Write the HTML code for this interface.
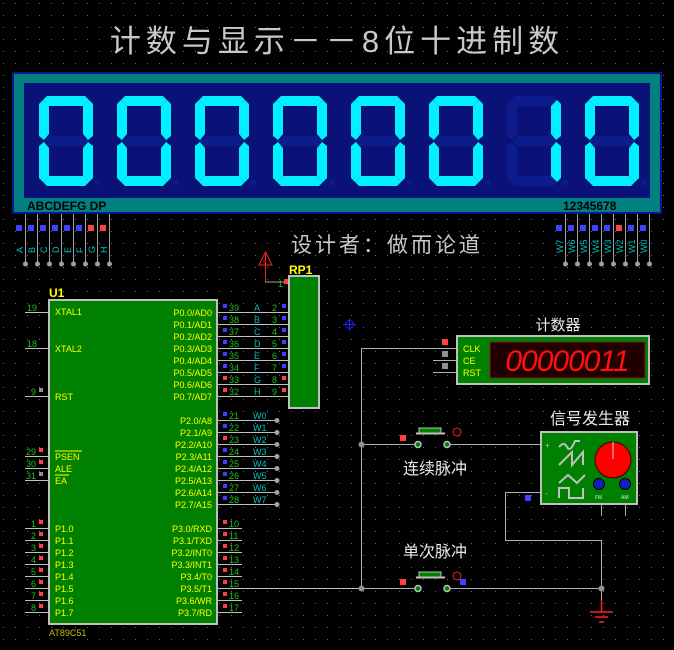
<!DOCTYPE html>
<html><head><meta charset="utf-8"><style>
html,body{margin:0;padding:0;background:#000;}
svg{display:block}
text{font-family:"Liberation Sans","Noto Sans CJK SC",sans-serif}
</style></head><body>
<svg width="674" height="650" viewBox="0 0 674 650" xmlns="http://www.w3.org/2000/svg">
<defs>
<pattern id="grid" width="12" height="12" patternUnits="userSpaceOnUse" x="3" y="3">
<rect x="0" y="0" width="1" height="1" fill="#6a6a6a"/>
</pattern>
<g id="sa"><polygon points="8,0 46,0 50,4 44,10 10,10 4,4"/></g>
<g id="sd"><polygon points="10,80 44,80 50,86 46,90 8,90 4,86"/></g>
<g id="sg"><polygon points="10,40 44,40 48,45 44,50 10,50 6,45"/></g>
<g id="sf"><polygon points="0,8 4,4 10,10 10,38 5,44 0,40"/></g>
<g id="sb"><polygon points="54,8 50,4 44,10 44,38 49,44 54,40"/></g>
<g id="se"><polygon points="0,50 5,46 10,52 10,80 4,86 0,82"/></g>
<g id="sc"><polygon points="54,50 49,46 44,52 44,80 50,86 54,82"/></g>
<g id="dig0">
<use href="#sg" fill="#0d1c8c"/>
<g fill="#00f0ff"><use href="#sa"/><use href="#sb"/><use href="#sc"/><use href="#sd"/><use href="#se"/><use href="#sf"/></g>
<rect x="56" y="84" width="5" height="5" fill="#0d1c8c"/>
</g>
<g id="dig1">
<g fill="#0d1c8c"><use href="#sa"/><use href="#sd"/><use href="#sg"/><use href="#se"/><use href="#sf"/></g>
<g fill="#00f0ff"><use href="#sb"/><use href="#sc"/></g>
<rect x="56" y="84" width="5" height="5" fill="#0d1c8c"/>
</g>
</defs>
<rect width="674" height="650" fill="#000"/>
<rect width="674" height="650" fill="url(#grid)"/>

<text x="337" y="52" text-anchor="middle" font-size="31" fill="#c8c8c8" letter-spacing="5">计数与显示－－8位十进制数</text>

<rect x="12" y="72" width="650" height="142" fill="#0a1590"/>
<rect x="14" y="74" width="646" height="138" fill="#008080"/>
<rect x="24" y="83" width="626" height="115" fill="#0a1278"/>
<g transform="translate(39,96)"><use href="#dig0"/></g>
<g transform="translate(117,96)"><use href="#dig0"/></g>
<g transform="translate(195,96)"><use href="#dig0"/></g>
<g transform="translate(273,96)"><use href="#dig0"/></g>
<g transform="translate(351,96)"><use href="#dig0"/></g>
<g transform="translate(429,96)"><use href="#dig0"/></g>
<g transform="translate(507,96)"><use href="#dig1"/></g>
<g transform="translate(585,96)"><use href="#dig0"/></g>
<text x="27" y="210" font-size="12" font-weight="bold" fill="#000">ABCDEFG DP</text>
<text x="563" y="210" font-size="12" font-weight="bold" fill="#000">12345678</text>

<g stroke="#a0a0a0" stroke-width="1">
<line x1="25.5" y1="214" x2="25.5" y2="263"/><line x1="37.5" y1="214" x2="37.5" y2="263"/>
<line x1="49.5" y1="214" x2="49.5" y2="263"/><line x1="61.5" y1="214" x2="61.5" y2="263"/>
<line x1="73.5" y1="214" x2="73.5" y2="263"/><line x1="85.5" y1="214" x2="85.5" y2="263"/>
<line x1="97.5" y1="214" x2="97.5" y2="263"/><line x1="109.5" y1="214" x2="109.5" y2="263"/>
<line x1="565.5" y1="214" x2="565.5" y2="263"/><line x1="577.5" y1="214" x2="577.5" y2="263"/>
<line x1="589.5" y1="214" x2="589.5" y2="263"/><line x1="601.5" y1="214" x2="601.5" y2="263"/>
<line x1="613.5" y1="214" x2="613.5" y2="263"/><line x1="625.5" y1="214" x2="625.5" y2="263"/>
<line x1="637.5" y1="214" x2="637.5" y2="263"/><line x1="649.5" y1="214" x2="649.5" y2="263"/>
</g>
<g fill="#a0a0a0">
<circle cx="25.5" cy="264" r="2.5"/><circle cx="37.5" cy="264" r="2.5"/><circle cx="49.5" cy="264" r="2.5"/><circle cx="61.5" cy="264" r="2.5"/>
<circle cx="73.5" cy="264" r="2.5"/><circle cx="85.5" cy="264" r="2.5"/><circle cx="97.5" cy="264" r="2.5"/><circle cx="109.5" cy="264" r="2.5"/>
<circle cx="565.5" cy="264" r="2.5"/><circle cx="577.5" cy="264" r="2.5"/><circle cx="589.5" cy="264" r="2.5"/><circle cx="601.5" cy="264" r="2.5"/>
<circle cx="613.5" cy="264" r="2.5"/><circle cx="625.5" cy="264" r="2.5"/><circle cx="637.5" cy="264" r="2.5"/><circle cx="649.5" cy="264" r="2.5"/>
</g>
<g fill="#4040ff">
<rect x="16" y="225" width="6" height="6"/><rect x="28" y="225" width="6" height="6"/><rect x="40" y="225" width="6" height="6"/>
<rect x="52" y="225" width="6" height="6"/><rect x="64" y="225" width="6" height="6"/><rect x="76" y="225" width="6" height="6"/>
<rect x="556" y="225" width="6" height="6"/><rect x="568" y="225" width="6" height="6"/><rect x="580" y="225" width="6" height="6"/>
<rect x="592" y="225" width="6" height="6"/><rect x="604" y="225" width="6" height="6"/><rect x="628" y="225" width="6" height="6"/><rect x="640" y="225" width="6" height="6"/>
</g>
<g fill="#ff4040">
<rect x="88" y="225" width="6" height="6"/><rect x="100" y="225" width="6" height="6"/><rect x="616" y="225" width="6" height="6"/>
</g>
<g font-size="9" fill="#00c0c0">
<text transform="translate(23,253) rotate(-90)">A</text><text transform="translate(35,253) rotate(-90)">B</text>
<text transform="translate(47,253) rotate(-90)">C</text><text transform="translate(59,253) rotate(-90)">D</text>
<text transform="translate(71,253) rotate(-90)">E</text><text transform="translate(83,253) rotate(-90)">F</text>
<text transform="translate(95,253) rotate(-90)">G</text><text transform="translate(107,253) rotate(-90)">H</text>
<text transform="translate(563,253) rotate(-90)">W7</text><text transform="translate(575,253) rotate(-90)">W6</text>
<text transform="translate(587,253) rotate(-90)">W5</text><text transform="translate(599,253) rotate(-90)">W4</text>
<text transform="translate(611,253) rotate(-90)">W3</text><text transform="translate(623,253) rotate(-90)">W2</text>
<text transform="translate(635,253) rotate(-90)">W1</text><text transform="translate(647,253) rotate(-90)">W0</text>
</g>
<text x="291" y="252" font-size="21" fill="#c8c8c8" letter-spacing="3">设计者：做而论道</text>

<line x1="265.5" y1="254" x2="265.5" y2="282" stroke="#ff2020"/>
<polygon points="265.5,252 259,265 272,265" fill="none" stroke="#ff2020"/>
<text x="263" y="264" font-size="7" fill="#ff2020">!</text>
<line x1="265" y1="282" x2="288" y2="282" stroke="#a0a0a0"/>
<text x="278" y="287" font-size="9" fill="#20c020">1</text>
<rect x="284" y="279" width="5" height="5" fill="#ff4040"/>

<text x="289" y="274" font-size="12" font-weight="bold" fill="#ffff00">RP1</text>
<rect x="289" y="276" width="30" height="132" fill="#008000" stroke="#c0c0c0" stroke-width="2"/>

<text x="49" y="297" font-size="12" font-weight="bold" fill="#ffff00">U1</text>
<rect x="49" y="300" width="168" height="324" fill="#008000" stroke="#c0c0c0" stroke-width="2"/>
<text x="49" y="636" font-size="9" fill="#c0c000">AT89C51</text>

<g stroke="#c0c0c0" stroke-width="1">
<line x1="25" y1="312.5" x2="49" y2="312.5"/><line x1="25" y1="348.5" x2="49" y2="348.5"/>
<line x1="25" y1="396.5" x2="49" y2="396.5"/><line x1="25" y1="456.5" x2="49" y2="456.5"/>
<line x1="25" y1="468.5" x2="49" y2="468.5"/><line x1="25" y1="480.5" x2="49" y2="480.5"/>
<line x1="25" y1="528.5" x2="49" y2="528.5"/><line x1="25" y1="540.5" x2="49" y2="540.5"/>
<line x1="25" y1="552.5" x2="49" y2="552.5"/><line x1="25" y1="564.5" x2="49" y2="564.5"/>
<line x1="25" y1="576.5" x2="49" y2="576.5"/><line x1="25" y1="588.5" x2="49" y2="588.5"/>
<line x1="25" y1="600.5" x2="49" y2="600.5"/><line x1="25" y1="612.5" x2="49" y2="612.5"/>
<line x1="217" y1="312.5" x2="289" y2="312.5"/><line x1="217" y1="324.5" x2="289" y2="324.5"/>
<line x1="217" y1="336.5" x2="289" y2="336.5"/><line x1="217" y1="348.5" x2="289" y2="348.5"/>
<line x1="217" y1="360.5" x2="289" y2="360.5"/><line x1="217" y1="372.5" x2="289" y2="372.5"/>
<line x1="217" y1="384.5" x2="289" y2="384.5"/><line x1="217" y1="396.5" x2="289" y2="396.5"/>
<line x1="217" y1="420.5" x2="277" y2="420.5"/><line x1="217" y1="432.5" x2="277" y2="432.5"/>
<line x1="217" y1="444.5" x2="277" y2="444.5"/><line x1="217" y1="456.5" x2="277" y2="456.5"/>
<line x1="217" y1="468.5" x2="277" y2="468.5"/><line x1="217" y1="480.5" x2="277" y2="480.5"/>
<line x1="217" y1="492.5" x2="277" y2="492.5"/><line x1="217" y1="504.5" x2="277" y2="504.5"/>
<line x1="217" y1="528.5" x2="242" y2="528.5"/><line x1="217" y1="540.5" x2="242" y2="540.5"/>
<line x1="217" y1="552.5" x2="242" y2="552.5"/><line x1="217" y1="564.5" x2="242" y2="564.5"/>
<line x1="217" y1="576.5" x2="242" y2="576.5"/><line x1="217" y1="588.5" x2="361" y2="588.5"/>
<line x1="217" y1="600.5" x2="242" y2="600.5"/><line x1="217" y1="612.5" x2="242" y2="612.5"/>
</g>
<g fill="#a0a0a0">
<circle cx="277" cy="420.5" r="2.5"/><circle cx="277" cy="432.5" r="2.5"/><circle cx="277" cy="444.5" r="2.5"/><circle cx="277" cy="456.5" r="2.5"/>
<circle cx="277" cy="468.5" r="2.5"/><circle cx="277" cy="480.5" r="2.5"/><circle cx="277" cy="492.5" r="2.5"/><circle cx="277" cy="504.5" r="2.5"/>
</g>
<g font-size="9" fill="#ffff00">
<text x="55" y="315">XTAL1</text><text x="55" y="352">XTAL2</text><text x="55" y="400">RST</text>
<text x="55" y="460">PSEN</text><text x="55" y="472">ALE</text><text x="55" y="484">EA</text>
<text x="55" y="532">P1.0</text><text x="55" y="544">P1.1</text><text x="55" y="556">P1.2</text><text x="55" y="568">P1.3</text>
<text x="55" y="580">P1.4</text><text x="55" y="592">P1.5</text><text x="55" y="604">P1.6</text><text x="55" y="616">P1.7</text>
</g>
<line x1="55" y1="451" x2="82" y2="451" stroke="#ffff00"/>
<line x1="55" y1="475" x2="69" y2="475" stroke="#ffff00"/>
<g font-size="9" fill="#ffff00" text-anchor="end">
<text x="212" y="316">P0.0/AD0</text><text x="212" y="328">P0.1/AD1</text><text x="212" y="340">P0.2/AD2</text><text x="212" y="352">P0.3/AD3</text>
<text x="212" y="364">P0.4/AD4</text><text x="212" y="376">P0.5/AD5</text><text x="212" y="388">P0.6/AD6</text><text x="212" y="400">P0.7/AD7</text>
<text x="212" y="424">P2.0/A8</text><text x="212" y="436">P2.1/A9</text><text x="212" y="448">P2.2/A10</text><text x="212" y="460">P2.3/A11</text>
<text x="212" y="472">P2.4/A12</text><text x="212" y="484">P2.5/A13</text><text x="212" y="496">P2.6/A14</text><text x="212" y="508">P2.7/A15</text>
<text x="212" y="532">P3.0/RXD</text><text x="212" y="544">P3.1/TXD</text><text x="212" y="556">P3.2/INT0</text><text x="212" y="568">P3.3/INT1</text>
<text x="212" y="580">P3.4/T0</text><text x="212" y="592">P3.5/T1</text><text x="212" y="604">P3.6/WR</text><text x="212" y="616">P3.7/RD</text>
</g>
<g font-size="9" fill="#20c020">
<text x="27" y="311">19</text><text x="27" y="347">18</text><text x="31" y="395">9</text>
<text x="26" y="455">29</text><text x="26" y="467">30</text><text x="26" y="479">31</text>
<text x="31" y="527">1</text><text x="31" y="539">2</text><text x="31" y="551">3</text><text x="31" y="563">4</text>
<text x="31" y="575">5</text><text x="31" y="587">6</text><text x="31" y="599">7</text><text x="31" y="611">8</text>
<text x="229" y="311">39</text><text x="229" y="323">38</text><text x="229" y="335">37</text><text x="229" y="347">36</text>
<text x="229" y="359">35</text><text x="229" y="371">34</text><text x="229" y="383">33</text><text x="229" y="395">32</text>
<text x="229" y="419">21</text><text x="229" y="431">22</text><text x="229" y="443">23</text><text x="229" y="455">24</text>
<text x="229" y="467">25</text><text x="229" y="479">26</text><text x="229" y="491">27</text><text x="229" y="503">28</text>
<text x="229" y="527">10</text><text x="229" y="539">11</text><text x="229" y="551">12</text><text x="229" y="563">13</text>
<text x="229" y="575">14</text><text x="229" y="587">15</text><text x="229" y="599">16</text><text x="229" y="611">17</text>
<text x="272" y="311">2</text><text x="272" y="323">3</text><text x="272" y="335">4</text><text x="272" y="347">5</text>
<text x="272" y="359">6</text><text x="272" y="371">7</text><text x="272" y="383">8</text><text x="272" y="395">9</text>
</g>
<g font-size="9" fill="#00c0c0">
<text x="254" y="311">A</text><text x="254" y="323">B</text><text x="254" y="335">C</text><text x="254" y="347">D</text>
<text x="254" y="359">E</text><text x="254" y="371">F</text><text x="254" y="383">G</text><text x="254" y="395">H</text>
<text x="253" y="419">W0</text><text x="253" y="431">W1</text><text x="253" y="443">W2</text><text x="253" y="455">W3</text>
<text x="253" y="467">W4</text><text x="253" y="479">W5</text><text x="253" y="491">W6</text><text x="253" y="503">W7</text>
</g>
<g fill="#4040ff">
<rect x="223" y="304" width="4" height="4"/><rect x="223" y="316" width="4" height="4"/><rect x="223" y="328" width="4" height="4"/>
<rect x="223" y="340" width="4" height="4"/><rect x="223" y="352" width="4" height="4"/><rect x="223" y="364" width="4" height="4"/>
<rect x="282" y="304" width="4" height="4"/><rect x="282" y="316" width="4" height="4"/><rect x="282" y="328" width="4" height="4"/>
<rect x="282" y="340" width="4" height="4"/><rect x="282" y="352" width="4" height="4"/><rect x="282" y="364" width="4" height="4"/>
<rect x="223" y="412" width="4" height="4"/><rect x="223" y="424" width="4" height="4"/><rect x="223" y="448" width="4" height="4"/>
<rect x="223" y="460" width="4" height="4"/><rect x="223" y="472" width="4" height="4"/><rect x="223" y="484" width="4" height="4"/><rect x="223" y="496" width="4" height="4"/>
</g>
<g fill="#ff4040">
<rect x="223" y="376" width="4" height="4"/><rect x="223" y="388" width="4" height="4"/>
<rect x="282" y="376" width="4" height="4"/><rect x="282" y="388" width="4" height="4"/>
<rect x="223" y="436" width="4" height="4"/>
<rect x="223" y="520" width="4" height="4"/><rect x="223" y="532" width="4" height="4"/><rect x="223" y="544" width="4" height="4"/><rect x="223" y="556" width="4" height="4"/>
<rect x="223" y="568" width="4" height="4"/><rect x="223" y="580" width="4" height="4"/><rect x="223" y="592" width="4" height="4"/><rect x="223" y="604" width="4" height="4"/>
<rect x="39" y="448" width="4" height="4"/><rect x="39" y="460" width="4" height="4"/>
<rect x="39" y="520" width="4" height="4"/><rect x="39" y="532" width="4" height="4"/><rect x="39" y="544" width="4" height="4"/><rect x="39" y="556" width="4" height="4"/>
<rect x="39" y="568" width="4" height="4"/><rect x="39" y="580" width="4" height="4"/><rect x="39" y="592" width="4" height="4"/><rect x="39" y="604" width="4" height="4"/>
</g>
<g fill="#909090"><rect x="39" y="388" width="4" height="4"/><rect x="39" y="472" width="4" height="4"/></g>

<circle cx="349.5" cy="324.5" r="4" fill="none" stroke="#2020ff"/>
<line x1="343" y1="324.5" x2="356" y2="324.5" stroke="#2020ff"/><line x1="349.5" y1="318" x2="349.5" y2="331" stroke="#2020ff"/>

<g stroke="#b0b0b0" stroke-width="1" fill="none">
<polyline points="457,348.5 361.5,348.5 361.5,588.5"/>
<line x1="433" y1="360.5" x2="457" y2="360.5"/><line x1="433" y1="372.5" x2="457" y2="372.5"/>
<line x1="361" y1="444.5" x2="417" y2="444.5"/><line x1="448" y1="444.5" x2="540" y2="444.5"/>
<line x1="361" y1="588.5" x2="417" y2="588.5"/><line x1="448" y1="588.5" x2="601" y2="588.5"/>
<polyline points="540,492.5 505.5,492.5 505.5,540.5 601.5,540.5 601.5,600"/>
<line x1="601.5" y1="505" x2="601.5" y2="516"/><line x1="625.5" y1="505" x2="625.5" y2="516"/>
</g>
<g fill="#909090"><circle cx="361.5" cy="444.5" r="3"/><circle cx="361.5" cy="588.5" r="3"/><circle cx="601.5" cy="588.5" r="3"/></g>
<g stroke="#ff2020" stroke-width="1.5"><line x1="601.5" y1="600" x2="601.5" y2="612"/>
<line x1="590" y1="612" x2="613" y2="612"/><line x1="595" y1="617" x2="608" y2="617"/><line x1="599" y1="622" x2="604" y2="622"/></g>

<text x="558" y="330" font-size="15" fill="#e8e8e8" text-anchor="middle">计数器</text>
<rect x="457" y="336" width="192" height="48" fill="#008000" stroke="#c0c0c0" stroke-width="2"/>
<rect x="490" y="342" width="155" height="36" fill="#200000" stroke="#802020"/>
<text x="567" y="371" font-size="30" font-style="italic" fill="#ff1010" text-anchor="middle" font-family="Liberation Mono, monospace" letter-spacing="-1">00000011</text>
<g font-size="9" fill="#ffff00"><text x="463" y="352">CLK</text><text x="463" y="364">CE</text><text x="463" y="376">RST</text></g>
<rect x="442" y="339" width="6" height="6" fill="#ff4040"/>
<rect x="442" y="351" width="6" height="6" fill="#909090"/>
<rect x="442" y="363" width="6" height="6" fill="#909090"/>

<rect x="419" y="428" width="22" height="5" fill="#008000" stroke="#c0c0c0"/>
<line x1="416" y1="433.5" x2="445" y2="433.5" stroke="#c0c0c0" stroke-width="2"/>
<circle cx="418" cy="444.5" r="3" fill="#008000" stroke="#c0c0c0" stroke-width="1.5"/>
<circle cx="447" cy="444.5" r="3" fill="#008000" stroke="#c0c0c0" stroke-width="1.5"/>
<rect x="400" y="435" width="6" height="6" fill="#ff4040"/>
<circle cx="457" cy="432" r="4" fill="none" stroke="#ff2020"/>
<text x="435" y="474" font-size="16" fill="#e8e8e8" text-anchor="middle">连续脉冲</text>
<rect x="419" y="572" width="22" height="5" fill="#008000" stroke="#c0c0c0"/>
<line x1="416" y1="577.5" x2="445" y2="577.5" stroke="#c0c0c0" stroke-width="2"/>
<circle cx="418" cy="588.5" r="3" fill="#008000" stroke="#c0c0c0" stroke-width="1.5"/>
<circle cx="447" cy="588.5" r="3" fill="#008000" stroke="#c0c0c0" stroke-width="1.5"/>
<rect x="400" y="579" width="6" height="6" fill="#ff4040"/>
<rect x="460" y="579" width="6" height="6" fill="#4040ff"/>
<circle cx="457" cy="576" r="4" fill="none" stroke="#ff2020"/>
<text x="435" y="557" font-size="16" fill="#e8e8e8" text-anchor="middle">单次脉冲</text>

<text x="590" y="424" font-size="16" fill="#e8e8e8" text-anchor="middle">信号发生器</text>
<rect x="541" y="432" width="96" height="72" fill="#008000" stroke="#c0c0c0" stroke-width="2"/>
<text x="545" y="448" font-size="8" fill="#c0c0c0">+</text><text x="545" y="496" font-size="8" fill="#c0c0c0">-</text>
<g stroke="#c0c0c0" stroke-width="2" fill="none">
<path d="M559,447 q5,-6 8,0 t8,-6 l5,0"/>
<polyline points="559,465 572,452 572,465 583,452 583,465"/>
<polyline points="559,483 568,475 577,483 585,475"/>
<polyline points="559,498 559,488 569,488 569,498 583,498 583,488"/>
</g>
<rect x="525" y="495" width="6" height="6" fill="#4040ff"/>
<circle cx="613" cy="460" r="18" fill="#ff0000" stroke="#300000"/>
<line x1="613" y1="442" x2="613" y2="459" stroke="#e0e0e0"/>
<circle cx="599" cy="484" r="5.5" fill="#1020c0" stroke="#000"/>
<circle cx="625" cy="484" r="5.5" fill="#1020c0" stroke="#000"/>
<text x="595" y="499" font-size="5" fill="#e0e0e0">FM</text><text x="621" y="499" font-size="5" fill="#e0e0e0">AM</text>
</svg>
</body></html>
